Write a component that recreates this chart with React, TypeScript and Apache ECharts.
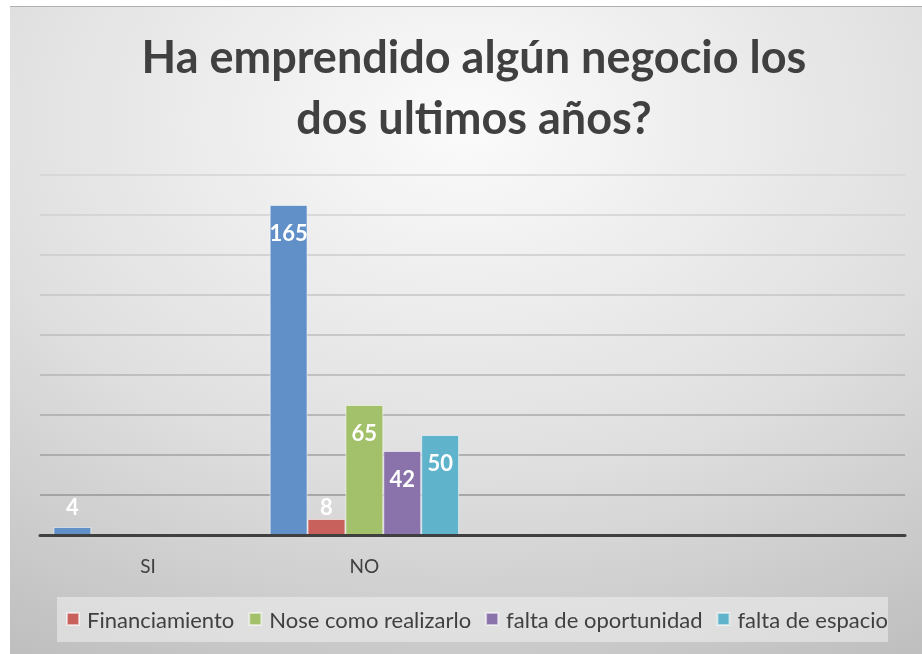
import React, { useEffect, useRef } from "react";
import * as echarts from "echarts";

const categories = ["SI", "NO", "", ""];
const seriesNames = ["Serie1", "Financiamiento", "Nose como realizarlo", "falta de oportunidad", "falta de espacio"];
const serie1 = [4, 165, null, null];
const financiamiento = [null, 8, null, null];
const noseComo = [null, 65, null, null];
const faltaOportunidad = [null, 42, null, null];
const faltaEspacio = [null, 50, null, null];
const legendNames = ["Financiamiento", "Nose como realizarlo", "falta de oportunidad", "falta de espacio"];
const colors = ["#6190c8", "#c8605c", "#a3c16a", "#8a72aa", "#5fb3ca"];
const titleText = "Ha emprendido algún negocio los\ndos ultimos años?";

const FONT = "Lato, 'Open Sans', sans-serif";

export default function App() {
  const ref = useRef<HTMLDivElement>(null);
  useEffect(() => {
    if (!ref.current) return;
    const chart = echarts.init(ref.current, undefined, { renderer: "svg" });
    const allData = [serie1, financiamiento, noseComo, faltaOportunidad, faltaEspacio];
    const smallFloor = 9;
    const mkData = (arr: (number | null)[]) =>
      arr.map((v) => {
        if (v === null) return null;
        if (v < 20) {
          return { value: v, label: { position: "top", distance: Math.max(2, (smallFloor - v) * 2) } };
        }
        return v;
      });
    const gridColors = ["#404040", "#969696", "#a0a0a0", "#aaaaaa", "#b4b4b4", "#bcbcbc", "#c4c4c4", "#cbcbcb", "#d0d0d0", "#d4d4d4"];
    chart.setOption({
      animation: false,
      graphic: [
        {
          type: "rect",
          z: -10,
          shape: { x: 10, y: 6, width: 912, height: 648 },
          style: {
            fill: new echarts.graphic.RadialGradient(0.5, 0.18, 0.95, [
              { offset: 0, color: "#fbfbfb" },
              { offset: 0.55, color: "#e0e0e0" },
              { offset: 1, color: "#bfbfbf" },
            ]),
          },
        },
        {
          type: "line",
          z: -9,
          shape: { x1: 10, y1: 6.5, x2: 922, y2: 6.5 },
          style: { stroke: "#b0b0b0", lineWidth: 1 },
        },
        {
          type: "rect",
          z: -8,
          shape: { x: 57, y: 597, width: 831, height: 45 },
          style: { fill: "rgba(240,240,240,0.55)" },
        },
        {
          type: "text",
          z: 10,
          style: {
            text: titleText,
            x: 474,
            y: 86,
            align: "center",
            verticalAlign: "middle",
            fontFamily: FONT,
            fontWeight: "bold",
            fontSize: 45,
            lineHeight: 61,
            fill: "#404040",
          },
        },
      ],
      legend: {
        data: legendNames,
        left: 66,
        top: 608,
        padding: 0,
        itemWidth: 12,
        itemHeight: 12,
        itemGap: 14,
        icon: "rect",
        textStyle: { fontFamily: FONT, fontSize: 22, color: "#404040", padding: [0, 0, 0, 3] },
      },
      grid: { left: 40, right: 17, top: 175, bottom: 119, containLabel: false },
      xAxis: {
        type: "category",
        data: categories,
        axisTick: { show: false },
        axisLine: { lineStyle: { color: "#404040", width: 3 } },
        axisLabel: { fontFamily: FONT, fontSize: 19, color: "#404040", margin: 21 },
        z: 5,
      },
      yAxis: {
        type: "value",
        min: 0,
        max: 180,
        interval: 20,
        axisLabel: { show: false },
        axisLine: { show: false },
        axisTick: { show: false },
        splitLine: { lineStyle: { color: gridColors, width: 1.5 } },
      },
      series: allData.map((d, i) => ({
        name: seriesNames[i],
        type: "bar",
        data: mkData(d),
        barGap: "0%",
        barCategoryGap: "12.4%",
        itemStyle: { color: colors[i], borderColor: "rgba(255,255,255,0.55)", borderWidth: 1 },
        label: {
          show: true,
          position: "insideTop",
          distance: 16,
          color: "#ffffff",
          fontFamily: FONT,
          fontWeight: "bold",
          fontSize: 22,
        },
      })),
    });
    return () => chart.dispose();
  }, []);
  return <div ref={ref} style={{ position: "fixed", left: 0, top: 0, width: 922, height: 654 }} />;
}
